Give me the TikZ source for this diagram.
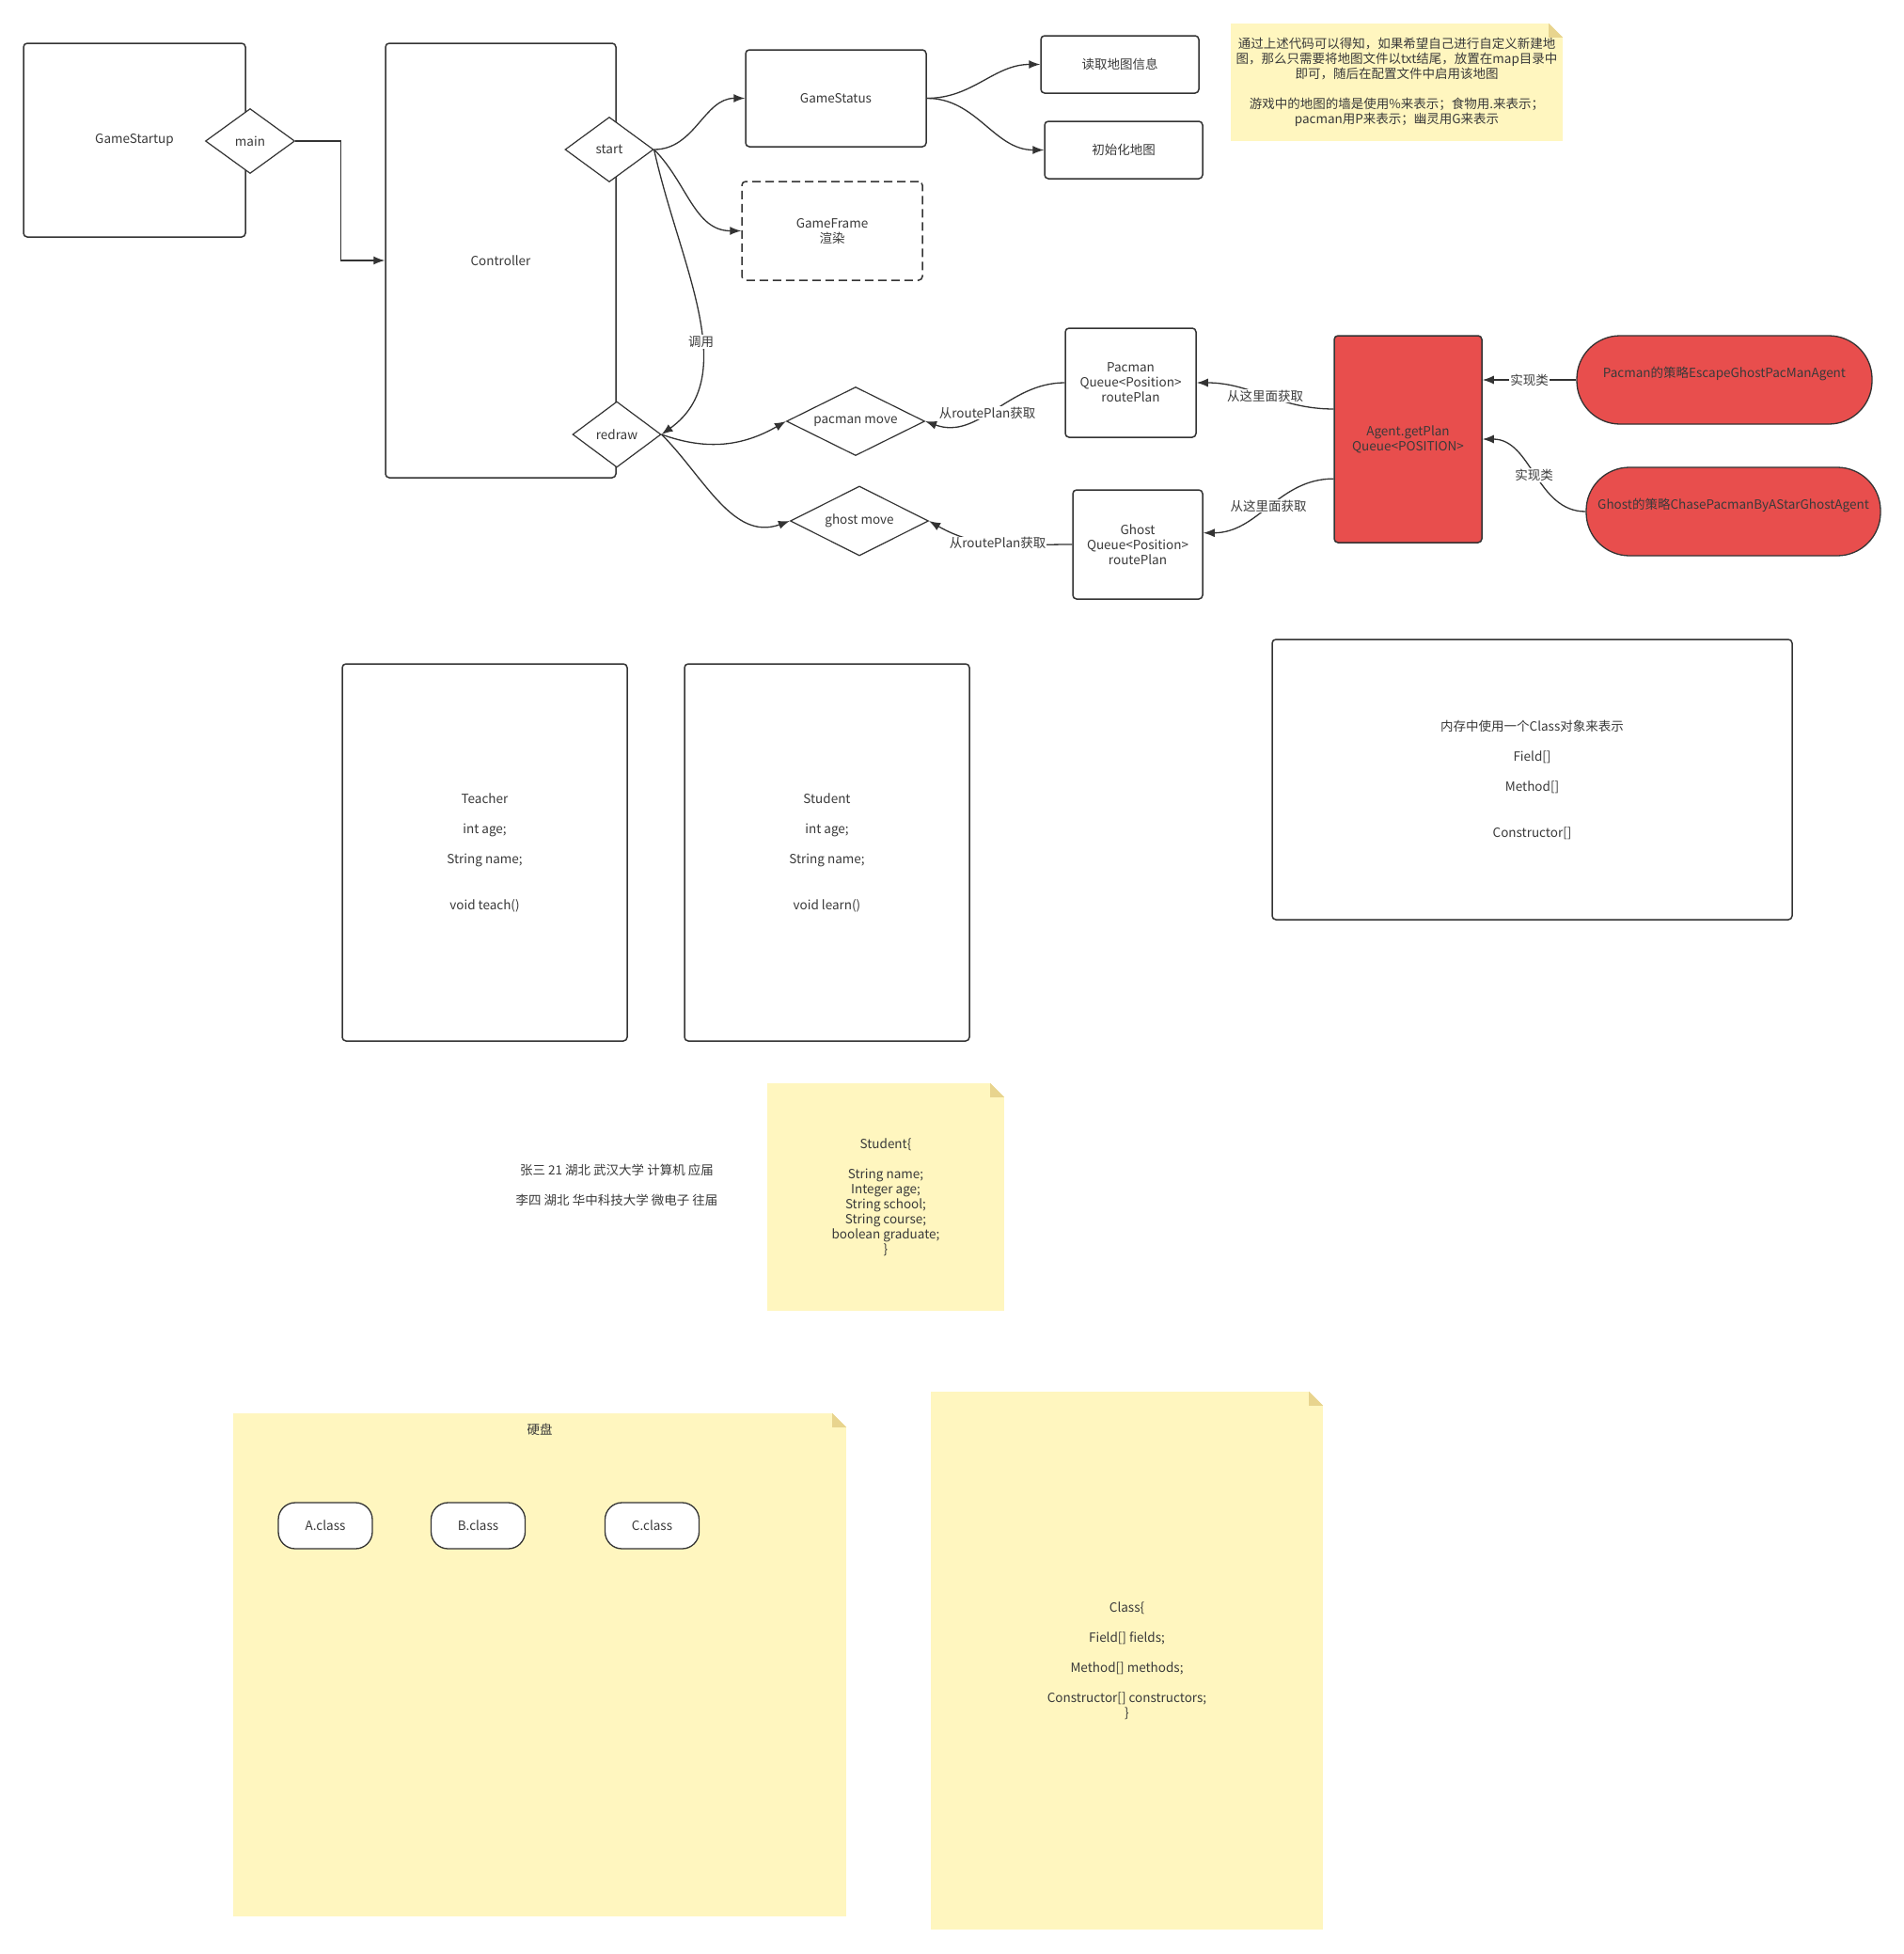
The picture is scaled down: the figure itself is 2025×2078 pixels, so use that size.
\documentclass[tikz,border=0pt]{standalone}
\usepackage{fontspec}
\setmainfont{Noto Sans CJK SC}
\usetikzlibrary{arrows.meta, shapes.geometric, calc}
\definecolor{linec}{HTML}{333333}
\definecolor{textc}{HTML}{3A3A3A}
\definecolor{notefill}{HTML}{FFF6BF}
\definecolor{foldfill}{HTML}{E8D48E}
\definecolor{agentred}{HTML}{E84E4D}

\begin{document}
\begin{tikzpicture}[
    x=1pt, y=1pt,
    every node/.style={font=\fontsize{13.5}{16}\selectfont, text=textc, align=center},
    box/.style={rectangle, draw=linec, line width=1.5pt, rounded corners=4pt, fill=white, inner sep=0pt},
    dec/.style={diamond, aspect=2, draw=linec, line width=1.2pt, fill=white, inner sep=0pt},
    pill/.style={rectangle, draw=linec, line width=1.3pt, rounded corners=46pt, fill=agentred, inner sep=0pt},
    clsbox/.style={rectangle, draw=linec, line width=1.3pt, rounded corners=18pt, fill=white, inner sep=0pt},
    note/.style={rectangle, fill=notefill, inner sep=0pt},
    conn/.style={draw=linec, line width=1.3pt, -{Latex[length=12pt, width=9pt]}},
    lbl/.style={fill=white, inner sep=1pt},
]
\useasboundingbox (0,0) rectangle (2025,-2078);

% ============================================================ startup and controller
\node[box, minimum width=236pt, minimum height=206pt] (startup) at (143,-149) {GameStartup};
\node[dec, minimum width=95pt, minimum height=69pt] (main) at (266,-150) {main};
\node[box, minimum width=245pt, minimum height=462pt] (ctrl) at (532.5,-277) {Controller};
\node[dec, minimum width=94pt, minimum height=69pt] (start) at (648,-159) {start};
\node[dec, minimum width=94pt, minimum height=70pt] (redraw) at (656,-462) {redraw};

% ============================================================ game status and frame
\node[box, minimum width=192pt, minimum height=103pt] (status) at (889,-104.5) {GameStatus};
\node[box, dash pattern=on 9pt off 5pt, minimum width=192pt, minimum height=105pt] (frame)
    at (885,-245.5) {GameFrame\\渲染};
\node[box, minimum width=168pt, minimum height=61pt] (readmap) at (1191,-68.5) {读取地图信息};
\node[box, minimum width=168pt, minimum height=61pt] (initmap) at (1195,-159.5) {初始化地图};

\node[note, minimum width=353pt, minimum height=125pt] (tip) at (1485.5,-87.5)
    {通过上述代码可以得知，如果希望自己进行自定义新建地\\
     图，那么只需要将地图文件以txt结尾，放置在map目录中\\
     即可，随后在配置文件中启用该地图\\[16pt]
     游戏中的地图的墙是使用\%来表示；食物用.来表示；\\
     pacman用P来表示；幽灵用G来表示};

% ============================================================ moves and route plans
\node[dec, minimum width=147pt, minimum height=73pt] (pmove) at (910,-448) {pacman move};
\node[dec, minimum width=147pt, minimum height=74pt] (gmove) at (914,-554) {ghost move};

\node[box, minimum width=139pt, minimum height=116pt] (pbox) at (1202.5,-407)
    {Pacman\\Queue<Position>\\routePlan};
\node[box, minimum width=138pt, minimum height=116pt] (gbox) at (1210,-579)
    {Ghost\\Queue<Position>\\routePlan};

% agent and its two strategies
\node[box, fill=agentred, minimum width=157pt, minimum height=220pt] (agent) at (1497.5,-467)
    {Agent.getPlan\\Queue<POSITION>};
\node[pill, minimum width=314pt, minimum height=94pt] (pstrat) at (1834,-404)
    {Pacman的策略EscapeGhostPacManAgent\\[-4pt]\strut};
\node[pill, minimum width=313pt, minimum height=94pt] (gstrat) at (1843.5,-544)
    {Ghost的策略ChasePacmanByAStarGhostAgent\\[-4pt]\strut};

% ============================================================ classes
\node[box, minimum width=303pt, minimum height=401pt] (teacher) at (515.5,-906.5)
    {Teacher\\[16pt]int age;\\[16pt]String name;\\[33pt]void teach()};
\node[box, minimum width=303pt, minimum height=401pt] (student) at (879.5,-906.5)
    {Student\\[16pt]int age;\\[16pt]String name;\\[33pt]void learn()};
\node[box, minimum width=553pt, minimum height=298pt] (memory) at (1629.5,-829)
    {内存中使用一个Class对象来表示\\[16pt]Field[]\\[16pt]Method[]\\[33pt]Constructor[]};

\node (records) at (656,-1260)
    {张三 21 湖北 武汉大学 计算机 应届\\[16pt]李四 湖北 华中科技大学 微电子 往届};
\node[note, minimum width=252pt, minimum height=242pt] (snote) at (942,-1273)
    {Student\{\\[16pt]String name;\\Integer age;\\String school;\\String course;\\boolean graduate;\\\}};

% ============================================================ disk and class object
\node[note, minimum width=652pt, minimum height=535pt] (disk) at (574,-1770.5) {};
\node (disklbl) at (574,-1520) {硬盘};
\node[clsbox, minimum width=100pt, minimum height=49pt] (aclass) at (346,-1622.5) {A.class};
\node[clsbox, minimum width=100pt, minimum height=49pt] (bclass) at (508.5,-1622.5) {B.class};
\node[clsbox, minimum width=100pt, minimum height=49pt] (cclass) at (693.5,-1622.5) {C.class};

\node[note, minimum width=417pt, minimum height=572pt] (cnote) at (1198.5,-1766)
    {Class\{\\[16pt]Field[] fields;\\[16pt]Method[] methods;\\[16pt]Constructor[] constructors;\\\}};

% folded corners of the notes
\foreach \n in {tip, snote, disk, cnote}{
    \fill[white] ($(\n.north east)+(-15,0)$) -- (\n.north east) -- ($(\n.north east)+(0,-15)$) -- cycle;
    \fill[foldfill] ($(\n.north east)+(-15,0)$) -- ($(\n.north east)+(-15,-15)$)
        -- ($(\n.north east)+(0,-15)$) -- cycle;
}

% ============================================================ connectors
\draw[conn] (main.east) -- ++(48.5,0) |- (ctrl.west);
\draw[conn] (start.east) to[out=0, in=180] (status.west);
\draw[conn] (start.east) to[out=-45, in=180] (frame.west);
\draw[conn] (start.east) .. controls (722,-280) and (790,-400) .. (redraw.east)
    node[lbl, pos=0.6] {调用};

\draw[conn] (status.east) to[out=0, in=180] (readmap.west);
\draw[conn] (status.east) to[out=0, in=180] (initmap.west);

\draw[conn] (redraw.east) to[out=-20, in=-150] (pmove.west);
\draw[conn] (redraw.east) to[out=-45, in=200] (gmove.west);

\draw[conn] (pbox.west) to[out=180, in=-20] node[lbl, pos=0.55] {从routePlan获取} (pmove.east);
\draw[conn] (gbox.west) to[out=180, in=-30] node[lbl, pos=0.5] {从routePlan获取} (gmove.east);

\draw[conn] (agent.158) to[out=180, in=0] node[lbl] {从这里面获取} (pbox.east);
\draw[conn] (agent.208) to[out=180, in=0] node[lbl] {从这里面获取} (gbox.10);

\draw[conn] (pstrat.west) -- node[lbl] {实现类} (pstrat.west -| agent.east);
\draw[conn] (gstrat.west) to[out=180, in=0] node[lbl] {实现类} (agent.east);

\end{tikzpicture}
\end{document}
